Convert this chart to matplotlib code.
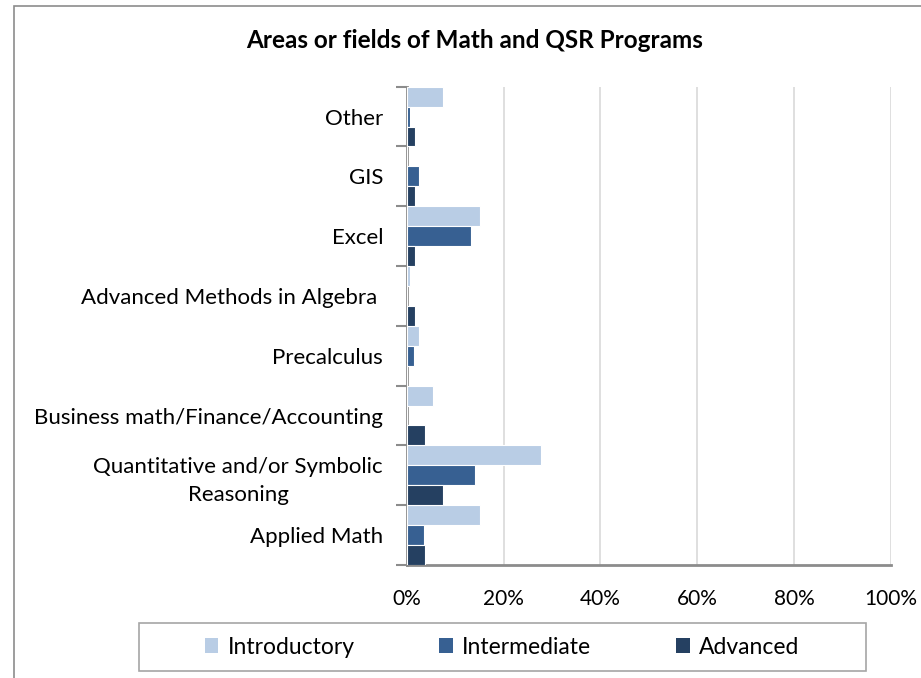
import numpy as np
import matplotlib.pyplot as plt
from matplotlib.patches import Rectangle, Patch

# Datos (porcentaje)
categorias = ['Applied Math', 'Quantitative and/or Symbolic\nReasoning',
              'Business math/Finance/Accounting', 'Precalculus',
              'Advanced Methods in Algebra ', 'Excel', 'GIS', 'Other']
introductory = [15.1, 27.7, 5.4, 2.6, 0.7, 15.2, 0.0, 7.4]
intermediate = [3.5, 14.1, 0.0, 1.6, 0.0, 13.2, 2.6, 0.6]
advanced = [3.7, 7.5, 3.7, 0.0, 1.8, 1.8, 1.8, 1.8]
series = ['Introductory', 'Intermediate', 'Advanced']
colores = ['#B9CDE5', '#376092', '#254061']

plt.rcParams['font.family'] = ['Lato', 'DejaVu Sans']

fig = plt.figure(figsize=(9.21, 6.78), dpi=100)
ax = fig.add_axes([0.4416, 0.1667, 0.5255, 0.7054])

# Borde del grafico
fig.patches.append(Rectangle((14 / 921, -0.05), 1.0, 1 - 6 / 678 + 0.05,
                             transform=fig.transFigure, fill=False,
                             edgecolor='#8C8C8C', linewidth=1.2))
# Marco de la leyenda
fig.patches.append(Rectangle((139 / 921, 1 - 671 / 678), 727 / 921, 48 / 678,
                             transform=fig.transFigure, fill=False,
                             edgecolor='#A6A6A6', linewidth=1.2))

y = np.arange(len(categorias))
h = 1 / 3
datos = [introductory, intermediate, advanced]
for i, (vals, col, nom) in enumerate(zip(datos, colores, series)):
    ax.barh(y + h - i * h, vals, height=h, color=col, edgecolor='white',
            linewidth=0.8, label=nom, zorder=3)

ax.set_xlim(0, 100)
ax.set_ylim(-0.5, len(categorias) - 0.5)
ax.set_xticks(np.arange(0, 101, 20))
ax.set_xticklabels([f'{v}%' for v in range(0, 101, 20)], fontsize=15)
ax.tick_params(axis='x', length=0, pad=17)
ax.xaxis.grid(True, color='#D9D9D9', linewidth=1.2, zorder=0)

ax.set_yticks(y)
ax.set_yticklabels(categorias, fontsize=16, ha='right', multialignment='center',
                   linespacing=1.45)
ax.tick_params(axis='y', length=0, pad=17)
ax.set_yticks(np.arange(-0.5, len(categorias), 1), minor=True)
ax.tick_params(axis='y', which='minor', length=8, width=1.5, color='#8C8C8C', direction='out')

for s in ['top', 'right']:
    ax.spines[s].set_visible(False)
ax.spines['left'].set_color('#8C8C8C')
ax.spines['left'].set_linewidth(2)
ax.spines['bottom'].set_color('#8C8C8C')
ax.spines['bottom'].set_linewidth(2)

fig.text(475 / 921, 1 - 40 / 678, 'Areas or fields of Math and QSR Programs',
         ha='center', va='center', fontsize=17.5, fontweight='bold')

manejadores = [Patch(facecolor=c, edgecolor='none') for c in colores]
leg = fig.legend(manejadores, series, loc='center', ncol=3,
                 bbox_to_anchor=(502 / 921, 1 - 647 / 678), fontsize=16.5,
                 frameon=False, handlelength=0.6, handleheight=0.6,
                 columnspacing=3.7, handletextpad=0.4, borderaxespad=0)

fig.savefig('out.png', dpi=100)
